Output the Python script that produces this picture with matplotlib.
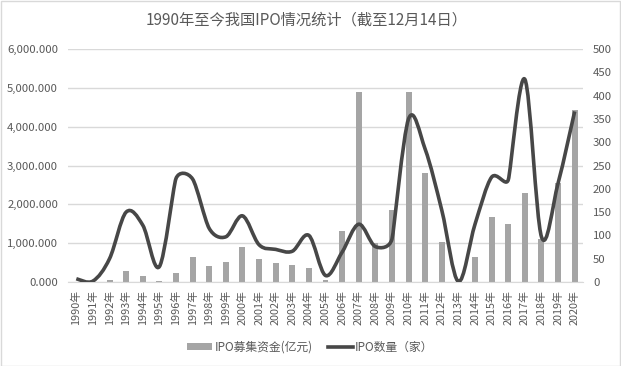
import math
import matplotlib
matplotlib.use("Agg")
import matplotlib.pyplot as plt
from matplotlib.path import Path
from matplotlib.patches import PathPatch, Rectangle, Patch
from matplotlib.lines import Line2D
from matplotlib.ticker import FuncFormatter, MultipleLocator

plt.rcParams['font.family'] = ['Noto Sans CJK SC', 'DejaVu Sans']

years = ["1990年", "1991年", "1992年", "1993年", "1994年", "1995年", "1996年", "1997年",
         "1998年", "1999年", "2000年", "2001年", "2002年", "2003年", "2004年", "2005年",
         "2006年", "2007年", "2008年", "2009年", "2010年", "2011年", "2012年", "2013年",
         "2014年", "2015年", "2016年", "2017年", "2018年", "2019年", "2020年"]

# IPO募集资金(亿元)
amount = [3, 5, 55, 290, 155, 35, 240, 652, 400, 525, 910, 600, 500, 450, 350, 40,
          1320, 4900, 1000, 1860, 4900, 2810, 1040, 0, 650, 1680, 1490, 2300, 1100, 2550, 4430]

# IPO数量（家）
count = [7, 2, 50, 150, 122, 33, 222, 221, 115, 97, 142, 80, 70, 66, 100, 14,
         64, 124, 76, 92, 350, 285, 154, 1, 124, 225, 219, 435, 97, 212, 366]

title = "1990年至今我国IPO情况统计（截至12月14日）"
bar_label = "IPO募集资金(亿元)"
line_label = "IPO数量（家）"

TXT = "#595959"
GRID = "#D9D9D9"
BAR = "#A5A5A5"
LINE = "#474747"

fig = plt.figure(figsize=(6.21, 3.66), dpi=100)
fig.patch.set_facecolor("white")

ax = fig.add_axes([0.1095, 0.2295, 0.8293, 0.6366])
x = list(range(len(years)))
ax.bar(x, amount, width=0.36, color=BAR, zorder=2)
ax.set_xlim(-0.5, len(years) - 0.5)
ax.set_ylim(0, 6000)
ax.yaxis.set_major_locator(MultipleLocator(1000))
ax.yaxis.set_major_formatter(FuncFormatter(lambda v, p: f"{v:,.3f}"))
ax.grid(axis="y", color=GRID, linewidth=1, zorder=0)
ax.set_axisbelow(True)
for s in ["top", "left", "right"]:
    ax.spines[s].set_visible(False)
ax.spines["bottom"].set_color(GRID)
ax.set_xticks(x)
ax.set_xticklabels(years, rotation=90, fontsize=7.8, color=TXT)
ax.tick_params(axis="x", length=0, pad=5.5)
ax.tick_params(axis="y", length=0, pad=7.2, labelsize=8.2, labelcolor=TXT)

ax2 = ax.twinx()
ax2.set_ylim(0, 500)
ax2.set_xlim(-0.5, len(years) - 0.5)
ax2.yaxis.set_major_locator(MultipleLocator(50))
for s in ["top", "left", "right", "bottom"]:
    ax2.spines[s].set_visible(False)
ax2.tick_params(axis="y", length=0, pad=7.2, labelsize=8.2, labelcolor=TXT)


def excel_smooth_path(axis, xs, ys):
    """Bezier smoothing in display space, Excel-like (tangent capped by segment length)."""
    tr = axis.transData
    pts = tr.transform(list(zip(xs, ys)))
    n = len(pts)

    def dist(a, b):
        return math.hypot(b[0] - a[0], b[1] - a[1])

    tang = []
    for i in range(n):
        p0 = pts[max(i - 1, 0)]
        p1 = pts[i]
        p2 = pts[min(i + 1, n - 1)]
        d02 = dist(p0, p2)
        if d02 == 0:
            tang.append((0.0, 0.0))
            continue
        L = d02 / 6
        d01 = dist(p0, p1)
        d12 = dist(p1, p2)
        if d01 > 0:
            L = min(L, d01 / 2)
        if d12 > 0:
            L = min(L, d12 / 2)
        ux = (p2[0] - p0[0]) / d02
        uy = (p2[1] - p0[1]) / d02
        tang.append((ux * L, uy * L))

    verts = [tuple(pts[0])]
    codes = [Path.MOVETO]
    for i in range(n - 1):
        c1 = (pts[i][0] + tang[i][0], pts[i][1] + tang[i][1])
        c2 = (pts[i + 1][0] - tang[i + 1][0], pts[i + 1][1] - tang[i + 1][1])
        verts += [c1, c2, tuple(pts[i + 1])]
        codes += [Path.CURVE4] * 3
    inv = tr.inverted()
    return Path(inv.transform(verts), codes)


pp = PathPatch(excel_smooth_path(ax2, x, count), fill=False, edgecolor=LINE,
               linewidth=2.6, capstyle="butt", joinstyle="round", zorder=3)
ax2.add_patch(pp)

fig.text(0.494, 1 - 20 / 366, title, ha="center", va="center", fontsize=11, color=TXT)

handles = [Patch(facecolor=BAR, edgecolor="none"),
           Line2D([0], [0], color=LINE, linewidth=2.6)]
leg = fig.legend(handles, [bar_label, line_label], loc="center",
                 bbox_to_anchor=(0.5, 1 - 347 / 366), ncol=2, frameon=False,
                 fontsize=8.5, handlelength=2.1, handleheight=0.55,
                 handletextpad=0.2, columnspacing=1.3)
for t in leg.get_texts():
    t.set_color(TXT)

fig.patches.append(Rectangle((0.5 / 621, 0.5 / 366), 1 - 1.5 / 621, 1 - 1.5 / 366,
                             transform=fig.transFigure, fill=False,
                             edgecolor=GRID, linewidth=1))

fig.savefig("out.png", dpi=100)
